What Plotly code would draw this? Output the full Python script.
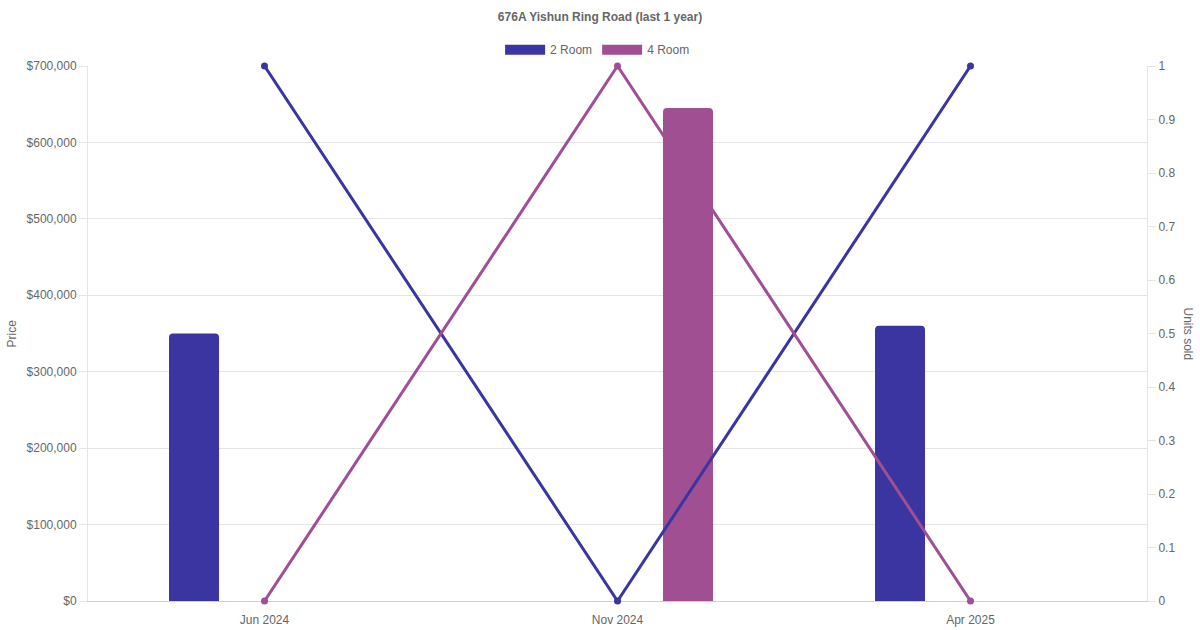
#!/usr/bin/env python
# -*- coding: utf-8 -*-
"""
Yishun Ring Road resale chart: price bars and units sold lines
"""

import plotly.graph_objects as go

title = '676A Yishun Ring Road (last 1 year)'
months = ['Jun 2024', 'Nov 2024', 'Apr 2025']
room_types = ['2 Room', '4 Room']
colors = {'2 Room': '#3a35a0', '4 Room': '#9f4f92'}

# price per month (None = no transaction)
price_2room = [350000, None, 360000]
price_4room = [None, 645000, None]

# units sold per month
units_2room = [1, 0, 1]
units_4room = [0, 1, 0]

prices = {'2 Room': price_2room, '4 Room': price_4room}
units = {'2 Room': units_2room, '4 Room': units_4room}
bar_offsets = {'2 Room': -0.2705, '4 Room': 0.1289}

font_family = 'Liberation Sans, Arial, sans-serif'
grid_color = '#e5e5e5'

figure = go.Figure()

for room in room_types:
    figure.add_trace(go.Bar(
        x=months,
        y=prices[room],
        name=room,
        marker=dict(color=colors[room], line=dict(width=0)),
        width=0.1416,
        offset=bar_offsets[room],
        showlegend=False,
        yaxis='y'
    ))

for room in room_types:
    figure.add_trace(go.Scatter(
        x=months,
        y=units[room],
        name=room,
        mode='lines+markers',
        line=dict(color=colors[room], width=3),
        marker=dict(color=colors[room], size=7),
        cliponaxis=False,
        showlegend=False,
        yaxis='y2'
    ))

# legend swatches (wide boxes like the original)
for room in room_types:
    figure.add_trace(go.Scatter(
        x=[None],
        y=[None],
        name=room,
        mode='lines',
        line=dict(color=colors[room], width=12),
        yaxis='y2'
    ))

figure.update_layout(
    width=1200,
    height=630,
    margin=dict(l=88, r=53, t=66, b=29),
    paper_bgcolor='white',
    plot_bgcolor='white',
    font=dict(family=font_family, size=12, color='#666'),
    barmode='overlay',
    barcornerradius=4,
    title=dict(
        text='<b>' + title + '</b>',
        x=0.5,
        xanchor='center',
        y=0.973,
        yanchor='middle',
        font=dict(size=12, color='#666')
    ),
    legend=dict(
        orientation='h',
        xref='container',
        x=0.498,
        xanchor='center',
        yref='container',
        y=0.921,
        yanchor='middle',
        itemwidth=40,
        font=dict(size=12, color='#666'),
        bgcolor='rgba(0,0,0,0)'
    ),
    xaxis=dict(
        type='category',
        range=[-0.5, 2.5],
        automargin=False,
        showgrid=False,
        showline=True,
        linecolor='#d0d0d0',
        linewidth=1,
        ticks='outside',
        ticklen=8,
        tickcolor='rgba(0,0,0,0)',
        zeroline=False,
        layer='below traces'
    ),
    yaxis=dict(
        range=[0, 700000],
        dtick=100000,
        tickprefix='$',
        tickformat=',d',
        automargin=False,
        showgrid=True,
        gridcolor=grid_color,
        showline=True,
        linecolor=grid_color,
        ticks='outside',
        ticklen=8,
        tickcolor=grid_color,
        zeroline=False,
        layer='below traces'
    ),
    yaxis2=dict(
        range=[0, 1],
        dtick=0.1,
        overlaying='y',
        side='right',
        automargin=False,
        showgrid=False,
        showline=True,
        linecolor=grid_color,
        ticks='outside',
        ticklen=8,
        tickcolor=grid_color,
        zeroline=False,
        layer='below traces'
    ),
    annotations=[
        dict(text='Price', textangle=-90, xref='paper', yref='paper',
             x=0, y=0.5, xanchor='center', yanchor='middle', xshift=-77,
             showarrow=False, font=dict(size=12, color='#666')),
        dict(text='Units sold', textangle=90, xref='paper', yref='paper',
             x=1, y=0.5, xanchor='center', yanchor='middle', xshift=41,
             showarrow=False, font=dict(size=12, color='#666'))
    ]
)

# page body has a default 8px margin; drop it so the chart fills the window
figure.write_html(
    'out.html',
    config={'displayModeBar': False},
    post_script="document.body.style.margin = '0';"
)
